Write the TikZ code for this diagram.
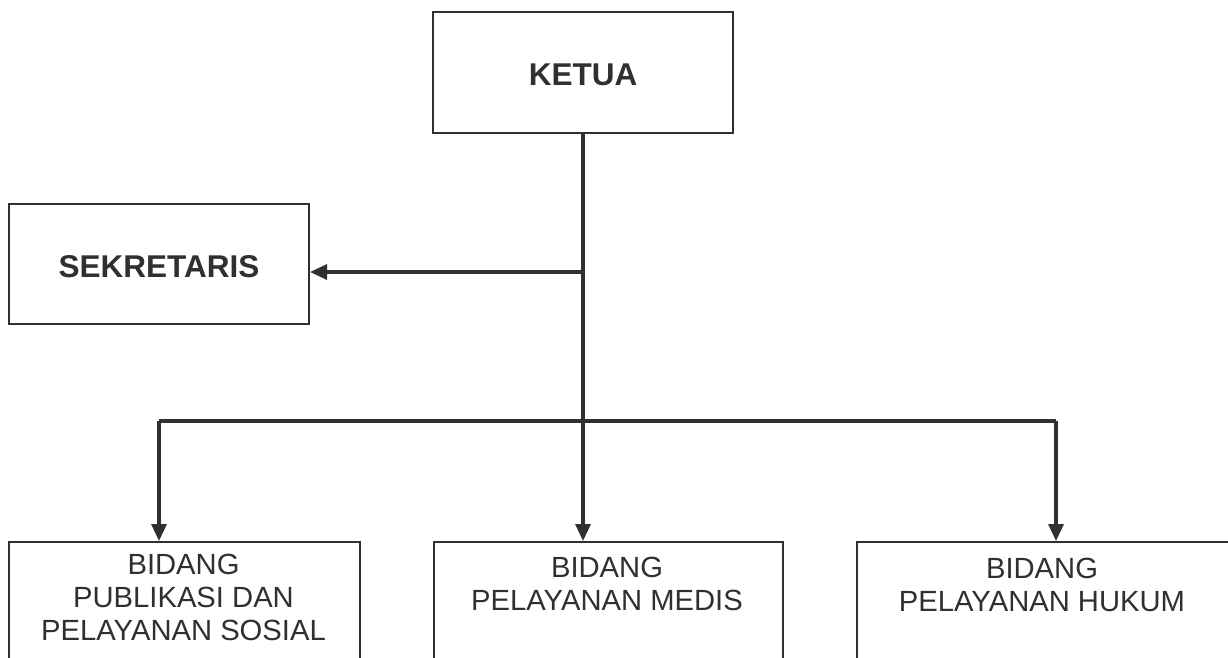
\documentclass[tikz,border=0pt]{standalone}
\usepackage{fontspec}
\setmainfont{Liberation Sans}
\usetikzlibrary{arrows.meta}
\definecolor{ink}{HTML}{303030}
\tikzset{
  box/.style={draw=ink, line width=2pt, fill=white, inner sep=0pt},
  boldlabel/.style={text=ink, font=\fontsize{31.5}{36}\selectfont\bfseries},
  plainlabel/.style={text=ink, font=\fontsize{29.2}{33}\selectfont, align=center, inner sep=0pt, anchor=north},
  conn/.style={draw=ink, line width=3.2pt},
  arr/.style={conn, -{Triangle[length=17pt,width=15pt]}}
}
\begin{document}
\begin{tikzpicture}[x=1pt,y=-1pt]
\useasboundingbox (0,0) rectangle (1228,657);
\clip (0,0) rectangle (1228,657);
\fill[white] (0,0) rectangle (1228,657);
% top boxes
\node[box, minimum width=300pt, minimum height=121pt] (ketua) at (583,72.5) {};
\node[boldlabel] (ketuat) at (583,74.5) {KETUA};
\node[box, minimum width=300pt, minimum height=120pt] (sek) at (159,264) {};
\node[boldlabel] (sekt) at (159,267) {SEKRETARIS};
% bottom boxes (cut by the page edge)
\node[box, anchor=north west, minimum width=351pt, minimum height=130pt] (left) at (8,541) {};
\node[box, anchor=north west, minimum width=349pt, minimum height=130pt] (mid) at (433,541) {};
\node[box, anchor=north west, minimum width=380pt, minimum height=130pt] (right) at (856,541) {};
\node[plainlabel] (leftt) at (183.5,554) {BIDANG\\PUBLIKASI DAN\\PELAYANAN SOSIAL};
\node[plainlabel] (midt) at (607,557) {BIDANG\\PELAYANAN MEDIS};
\node[plainlabel] (rightt) at (1042,558) {BIDANG\\PELAYANAN HUKUM};
% connectors
\coordinate (j1) at (583,272);
\coordinate (busL) at (159,421);
\coordinate (busR) at (1056,421);
\draw[arr] (ketua.south) -- (ketua.south |- mid.north);
\draw[arr] (j1) -- (j1 -| sek.east);
\draw[conn] (busL) -- (busR);
\draw[arr] (busL) -- (busL |- left.north);
\draw[arr] (busR) -- (busR |- right.north);
\end{tikzpicture}
\end{document}
